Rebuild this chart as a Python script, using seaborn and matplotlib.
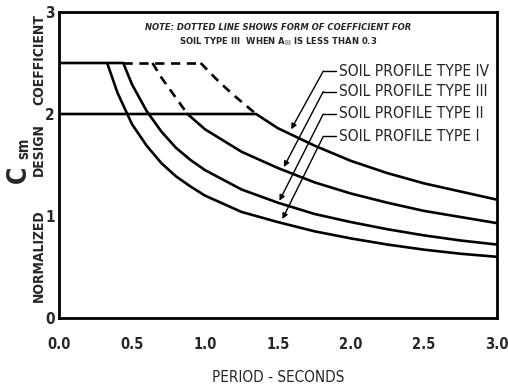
import matplotlib
matplotlib.use("Agg")
import os
import matplotlib.pyplot as plt
from matplotlib import font_manager
from matplotlib.font_manager import FontProperties
import seaborn as sns

# ---- data ----
t_type1 = [0.0, 0.33, 0.4, 0.5, 0.6, 0.7, 0.8, 0.9, 1.0, 1.25, 1.5, 1.75, 2.0, 2.25, 2.5, 2.75, 3.0]
c_type1 = [2.5, 2.5, 2.21, 1.90, 1.69, 1.52, 1.39, 1.29, 1.20, 1.04, 0.94, 0.85, 0.78, 0.72, 0.67, 0.63, 0.60]

t_type2 = [0.33, 0.44, 0.5, 0.6, 0.7, 0.8, 0.9, 1.0, 1.25, 1.5, 1.75, 2.0, 2.25, 2.5, 2.75, 3.0]
c_type2 = [2.5, 2.5, 2.29, 2.03, 1.83, 1.67, 1.55, 1.45, 1.26, 1.13, 1.02, 0.94, 0.87, 0.81, 0.76, 0.72]

t_type3 = [0.0, 0.88, 1.0, 1.25, 1.5, 1.75, 2.0, 2.25, 2.5, 2.75, 3.0]
c_type3 = [2.0, 2.0, 1.85, 1.63, 1.47, 1.33, 1.22, 1.13, 1.05, 0.99, 0.93]

t_type4 = [0.88, 1.35, 1.5, 1.75, 2.0, 2.25, 2.5, 2.75, 3.0]
c_type4 = [2.0, 2.0, 1.86, 1.69, 1.54, 1.42, 1.32, 1.24, 1.16]

# dashed / dotted alternative forms
t_cap_dash = [0.44, 0.97]
c_cap_dash = [2.5, 2.5]
t_type4_dash = [0.97, 1.1, 1.2, 1.35]
c_type4_dash = [2.5, 2.31, 2.18, 2.0]
t_type3_dot = [0.64, 0.7, 0.8, 0.88]
c_type3_dot = [2.5, 2.36, 2.16, 2.0]

x_ticks = [0.0, 0.5, 1.0, 1.5, 2.0, 2.5, 3.0]
x_tick_labels = ["0.0", "0.5", "1.0", "1.5", "2.0", "2.5", "3.0"]
y_ticks = [0, 1, 2, 3]
y_tick_labels = ["0", "1", "2", "3"]
labels = ["SOIL PROFILE TYPE IV", "SOIL PROFILE TYPE III",
          "SOIL PROFILE TYPE II", "SOIL PROFILE TYPE I"]

# ---- style ----
sns.set_style("white")
plt.rcParams["font.family"] = ["DejaVu Sans"]


def find_font(patterns):
    files = [f.fname for f in font_manager.fontManager.ttflist]
    for p in patterns:
        for fn in files:
            if os.path.basename(fn).lower() == p.lower():
                return fn
    return None


narrow_bold = find_font(["LiberationSansNarrow-Bold.ttf", "DejaVuSansCondensed-Bold.ttf",
                         "Roboto-Bold.ttf"])
narrow_reg = find_font(["LiberationSansNarrow-Regular.ttf", "DejaVuSansCondensed.ttf",
                        "Roboto-Regular.ttf"])
narrow_bi = find_font(["LiberationSansNarrow-BoldItalic.ttf", "DejaVuSansCondensed-BoldOblique.ttf",
                       "Roboto-BoldItalic.ttf"])


def fp(path, size, **kw):
    if path:
        p = FontProperties(fname=path, size=size)
    else:
        p = FontProperties(family="DejaVu Sans", size=size, **kw)
    return p


fig = plt.figure(figsize=(5.08, 3.88), dpi=100)
ax = fig.add_axes([59 / 508, 1 - 318 / 388, 438 / 508, 306 / 388])
renderer = fig.canvas.get_renderer()


def fit_width(txt, target_px):
    bb = txt.get_window_extent(renderer=renderer)
    if bb.width > 0:
        txt.set_fontsize(txt.get_fontsize() * target_px / bb.width)
    return txt.get_fontsize()


lw = 1.9


def solid(t, c):
    sns.lineplot(x=t, y=c, ax=ax, color="black", lw=lw, sort=False, estimator=None)


def dashed(t, c):
    sns.lineplot(x=t, y=c, ax=ax, color="black", lw=lw, sort=False, estimator=None,
                 linestyle=(0, (3.5, 2.5)))


solid(t_type1, c_type1)
solid(t_type2, c_type2)
solid(t_type3, c_type3)
solid(t_type4, c_type4)
dashed(t_cap_dash, c_cap_dash)
dashed(t_type4_dash, c_type4_dash)
dashed(t_type3_dot, c_type3_dot)

ax.set_xlim(0, 3)
ax.set_ylim(0, 3)
ax.set_xticks(x_ticks)
ax.set_xticklabels(x_tick_labels, fontproperties=fp(narrow_bold, 10.5, weight="bold"))
ax.set_yticks(y_ticks)
ax.set_yticklabels(y_tick_labels, fontproperties=fp(narrow_bold, 11, weight="bold"))
ax.tick_params(direction="in", length=4, width=1.2, pad=14, axis="x")
ax.tick_params(direction="in", length=4, width=1.2, pad=3, axis="y")
for s in ax.spines.values():
    s.set_linewidth(2)
    s.set_color("black")

xl = ax.set_xlabel("PERIOD - SECONDS", fontproperties=fp(narrow_reg, 11), labelpad=13)

# y label pieces
ylab_fp = fp(narrow_bold, 10, weight="bold")
fig.text(39 / 508, 1 - 60 / 388, "COEFFICIENT", rotation=90, ha="center", va="center",
         fontproperties=ylab_fp)
fig.text(39 / 508, 1 - 150 / 388, "DESIGN", rotation=90, ha="center", va="center",
         fontproperties=ylab_fp)
fig.text(39 / 508, 1 - 256 / 388, "NORMALIZED", rotation=90, ha="center", va="center",
         fontproperties=ylab_fp)
fig.text(19 / 508, 1 - 174 / 388, "C", rotation=90, ha="center", va="center",
         fontproperties=fp(narrow_bold, 19, weight="bold"))
fig.text(24 / 508, 1 - 148 / 388, "sm", rotation=90, ha="center", va="center",
         fontproperties=fp(narrow_bold, 10.5, weight="bold"))

# note
n1 = ax.text(1.5, 2.85, "NOTE: DOTTED LINE SHOWS FORM OF COEFFICIENT FOR",
             ha="center", va="center", fontproperties=fp(narrow_bi, 7, style="italic", weight="bold"))
fit_width(n1, 270)
n2 = ax.text(1.5, 2.71, r"SOIL TYPE III  WHEN A$_{\mathrm{III}}$ IS LESS THAN 0.3",
             ha="center", va="center", fontproperties=fp(narrow_bold, n1.get_fontsize(), weight="bold"))

# labels with leader lines
row_y = [2.42, 2.22, 2.0, 1.78]
tips = [(1.59, 1.85), (1.54, 1.48), (1.51, 1.15), (1.53, 0.97)]
lab_size = None
for lab, ry, tip in zip(labels, row_y, tips):
    t = ax.text(1.92, ry, lab, ha="left", va="center", fontproperties=fp(narrow_reg, 11.5))
    if lab_size is None:
        lab_size = fit_width(t, 150)
    else:
        t.set_fontsize(lab_size)
    ax.plot([1.81, 1.90], [ry, ry], color="black", lw=1.0)
    ax.annotate("", xy=tip, xytext=(1.81, ry),
                arrowprops=dict(arrowstyle="-|>", color="black", lw=1.0,
                                mutation_scale=8, shrinkA=0, shrinkB=0))

fig.savefig("out.png", dpi=100)
